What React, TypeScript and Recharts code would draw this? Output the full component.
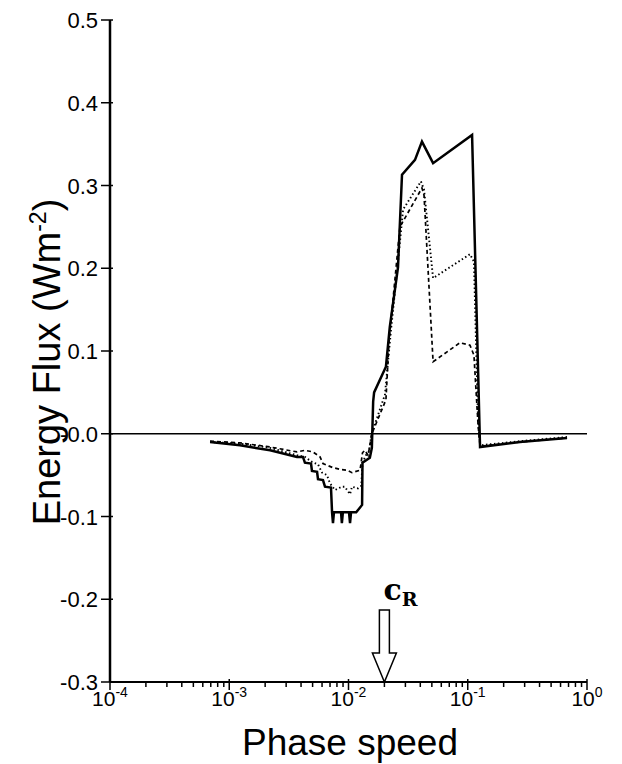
import React from 'react';
import { LineChart, Line, XAxis, YAxis, ReferenceLine, ReferenceDot } from 'recharts';

// phase speed (x) and energy flux (y) for each curve
const SOLID_C = [
  6.9e-4, 1.23e-3, 2.2e-3, 3.7e-3, 4.15e-3, 4.31e-3, 4.85e-3, 4.94e-3, 5.45e-3, 5.55e-3,
  6.11e-3, 6.35e-3, 7.13e-3, 7.28e-3, 7.41e-3, 7.55e-3, 8.66e-3, 8.8e-3, 8.97e-3, 1.01e-2,
  1.03e-2, 1.05e-2, 1.16e-2, 1.3e-2, 1.31e-2, 1.51e-2, 1.57e-2, 1.61e-2, 1.64e-2, 2.06e-2,
  2.22e-2, 2.6e-2, 2.81e-2, 3.61e-2, 4.13e-2, 5.12e-2, 0.1087, 0.1268, 0.274, 0.68,
];
const SOLID_F = [
  -0.010, -0.014, -0.020, -0.028, -0.028, -0.035, -0.036, -0.045, -0.046, -0.055,
  -0.056, -0.064, -0.065, -0.095, -0.108, -0.095, -0.095, -0.108, -0.095, -0.095,
  -0.108, -0.095, -0.095, -0.086, -0.035, -0.029, -0.017, 0.039, 0.050, 0.081,
  0.129, 0.201, 0.313, 0.331, 0.353, 0.327, 0.361, -0.016, -0.010, -0.005,
];

const DOTTED_C = [
  6.9e-4, 1.23e-3, 2.2e-3, 3.7e-3, 4.31e-3, 4.94e-3, 5.55e-3, 6.0e-3, 6.6e-3, 7.0e-3,
  7.7e-3, 8.8e-3, 9.3e-3, 1.03e-2, 1.07e-2, 1.2e-2, 1.28e-2, 1.31e-2, 1.4e-2, 1.48e-2,
  1.57e-2, 2.02e-2, 2.27e-2, 2.56e-2, 2.87e-2, 4.05e-2, 4.3e-2, 5.12e-2, 0.1044, 0.1127,
  0.122, 0.1268, 0.274, 0.68,
];
const DOTTED_F = [
  -0.010, -0.012, -0.017, -0.026, -0.028, -0.034, -0.037, -0.047, -0.050, -0.060,
  -0.068, -0.064, -0.064, -0.073, -0.064, -0.066, -0.063, -0.035, -0.026, -0.022,
  0.001, 0.047, 0.125, 0.198, 0.271, 0.305, 0.295, 0.188, 0.217, 0.208,
  0.017, -0.014, -0.009, -0.004,
];

const DASHED_C = [
  6.9e-4, 1.23e-3, 2.2e-3, 3.7e-3, 4.31e-3, 5.04e-3, 5.77e-3, 6.11e-3, 7.41e-3, 8.5e-3,
  9.7e-3, 1.07e-2, 1.25e-2, 1.31e-2, 1.37e-2, 1.46e-2, 1.57e-2, 2.06e-2, 2.19e-2, 2.45e-2,
  2.7e-2, 4.13e-2, 4.3e-2, 5.12e-2, 8.6e-2, 0.1044, 0.1127, 0.122, 0.1268, 0.274, 0.68,
];
const DASHED_F = [
  -0.009, -0.011, -0.016, -0.022, -0.020, -0.022, -0.028, -0.036, -0.041, -0.043,
  -0.044, -0.047, -0.044, -0.023, -0.020, -0.026, 0.0, 0.041, 0.113, 0.186,
  0.250, 0.297, 0.288, 0.087, 0.110, 0.107, 0.095, 0.011, -0.015, -0.010, -0.005,
];

const DECADES = [1e-4, 1e-3, 1e-2, 1e-1, 1];
const DECADE_EXP = ['-4', '-3', '-2', '-1', '0'];
const MINOR = [2, 3, 4, 5, 6, 7, 8, 9];
const Y_TICKS = [-0.3, -0.2, -0.1, 0, 0.1, 0.2, 0.3, 0.4, 0.5];
const C_R = 0.02;

const zip = (xs: number[], ys: number[]) => xs.map((x, i) => ({ x, y: ys[i] }));
const solid = zip(SOLID_C, SOLID_F);
const dotted = zip(DOTTED_C, DOTTED_F);
const dashed = zip(DASHED_C, DASHED_F);

const xTicks = DECADES.slice(0, 4)
  .flatMap((d) => [d, ...MINOR.map((m) => d * m)])
  .concat([1]);

const isMajor = (v: number) => DECADES.some((d) => Math.abs(v / d - 1) < 1e-6);

const FONT = '"Liberation Sans", Arial, Helvetica, sans-serif';

function BottomTick({ x, y, payload }: any) {
  const v = payload.value;
  const major = isMajor(v);
  const idx = DECADES.findIndex((d) => Math.abs(v / d - 1) < 1e-6);
  return (
    <g>
      <line x1={x} x2={x} y1={y - (major ? 3 : 0)} y2={y + (major ? 8 : 5)} stroke="#000" strokeWidth={1.5} />
      {major && (
        <text x={x} y={y + 24} textAnchor="middle" fontFamily={FONT} fontSize={21} fill="#000">
          10<tspan dy={-9} fontSize={14}>{DECADE_EXP[idx]}</tspan>
        </text>
      )}
    </g>
  );
}

function TopTick({ x, y, payload }: any) {
  const major = isMajor(payload.value);
  return <line x1={x} x2={x} y1={y + (major ? 3 : 0)} y2={y - (major ? 8 : 5)} stroke="#000" strokeWidth={1.5} />;
}

function LeftTick({ x, y, payload }: any) {
  const v = payload.value;
  const label = v === 0 ? '-0.0' : v.toFixed(1);
  return (
    <g>
      <line x1={x - 9} x2={x + 3} y1={y} y2={y} stroke="#000" strokeWidth={1.5} />
      <text x={x - 12} y={y + 8} textAnchor="end" fontFamily={FONT} fontSize={22} fill="#000">
        {label}
      </text>
    </g>
  );
}

function CrArrow({ cx, cy }: any) {
  const tipY = cy;
  const headTop = cy - 29;
  const shaftTop = cy - 72;
  const hw = 12;
  const sw = 5;
  const d = `M${cx},${tipY} L${cx - hw},${headTop} L${cx - sw},${headTop} L${cx - sw},${shaftTop} L${cx + sw},${shaftTop} L${cx + sw},${headTop} L${cx + hw},${headTop} Z`;
  return (
    <g>
      <path d={d} fill="#fff" stroke="#000" strokeWidth={1.5} />
      <text x={cx - 1} y={cy - 82} fontFamily='"DejaVu Serif", serif' fontWeight="bold" fontSize={30} fill="#000">
        c<tspan dy={6} fontSize={19}>R</tspan>
      </text>
    </g>
  );
}

export default function App() {
  return (
    <div style={{ position: 'absolute', left: 0, top: 0, width: 622, height: 764, background: '#fff' }}>
      <LineChart width={622} height={764} margin={{ top: 20, right: 35, bottom: 0, left: 0 }}>
        <XAxis
          xAxisId="b"
          type="number"
          dataKey="x"
          scale="log"
          domain={[1e-4, 1]}
          allowDataOverflow
          ticks={xTicks}
          interval={0}
          height={82}
          tickSize={0}
          tickMargin={0}
          tickLine={false}
          axisLine={{ stroke: '#000', strokeWidth: 2 }}
          tick={<BottomTick />}
        />
        <XAxis
          xAxisId="t"
          orientation="top"
          type="number"
          dataKey="x"
          scale="log"
          domain={[1e-4, 1]}
          allowDataOverflow
          ticks={xTicks}
          interval={0}
          height={0}
          tickSize={0}
          tickMargin={0}
          tickLine={false}
          axisLine={{ stroke: '#000', strokeWidth: 2 }}
          tick={<TopTick />}
        />
        <YAxis
          yAxisId="l"
          type="number"
          domain={[-0.3, 0.5]}
          ticks={Y_TICKS}
          interval={0}
          width={110}
          tickSize={0}
          tickMargin={0}
          tickLine={false}
          axisLine={{ stroke: '#000', strokeWidth: 2.5 }}
          tick={<LeftTick />}
        />
        <YAxis
          yAxisId="r"
          orientation="right"
          type="number"
          domain={[-0.3, 0.5]}
          width={0}
          tick={false}
          tickLine={false}
          axisLine={{ stroke: '#000', strokeWidth: 2 }}
        />
        <ReferenceLine xAxisId="b" yAxisId="l" y={0} stroke="#000" strokeWidth={1.5} />
        <Line xAxisId="b" yAxisId="l" data={dashed} dataKey="y" type="linear" stroke="#000" strokeWidth={1.7}
          strokeDasharray="4 3" dot={false} isAnimationActive={false} />
        <Line xAxisId="b" yAxisId="l" data={dotted} dataKey="y" type="linear" stroke="#000" strokeWidth={1.9}
          strokeDasharray="1.5 2.5" dot={false} isAnimationActive={false} />
        <Line xAxisId="b" yAxisId="l" data={solid} dataKey="y" type="linear" stroke="#000" strokeWidth={2.5}
          dot={false} isAnimationActive={false} />
        <ReferenceDot xAxisId="b" yAxisId="l" x={C_R} y={-0.3} r={0} shape={<CrArrow />} />
      </LineChart>
      <svg width={622} height={764} style={{ position: 'absolute', left: 0, top: 0, pointerEvents: 'none' }}>
        <text
          x={60}
          y={362}
          transform="rotate(-90 60 362)"
          textAnchor="middle"
          fontFamily={FONT}
          fontSize={38}
          fill="#000"
        >
          Energy Flux (Wm<tspan dy={-14} fontSize={23}>-2</tspan>
          <tspan dy={14}>)</tspan>
        </text>
        <text x={350} y={755} textAnchor="middle" fontFamily={FONT} fontSize={37} fill="#000">
          Phase speed
        </text>
      </svg>
    </div>
  );
}
